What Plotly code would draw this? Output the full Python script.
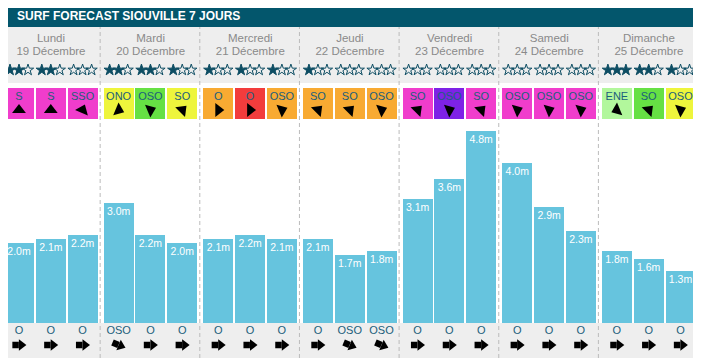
import math
import plotly.graph_objects as go

# ---------------- data ----------------
days = ["Lundi", "Mardi", "Mercredi", "Jeudi", "Vendredi", "Samedi", "Dimanche"]
dates = ["19 Décembre", "20 Décembre", "21 Décembre", "22 Décembre",
         "23 Décembre", "24 Décembre", "25 Décembre"]
stars = [[2, 2, 0], [2, 2, 1], [1, 1, 1], [1, 0, 0], [0, 0, 0], [0, 0, 0], [3, 2, 1]]
wind_dir = [["S", "S", "SSO"], ["ONO", "OSO", "SO"], ["O", "O", "OSO"],
            ["SO", "SO", "OSO"], ["SO", "OSO", "SO"], ["OSO", "OSO", "OSO"],
            ["ENE", "SO", "OSO"]]
wind_level = [["magenta", "magenta", "magenta"], ["yellow", "green", "yellow"],
              ["orange", "red", "orange"], ["orange", "orange", "orange"],
              ["magenta", "purple", "magenta"], ["magenta", "magenta", "magenta"],
              ["lightgreen", "green", "yellow"]]
wave_height = [[2.0, 2.1, 2.2], [3.0, 2.2, 2.0], [2.1, 2.2, 2.1], [2.1, 1.7, 1.8],
               [3.1, 3.6, 4.8], [4.0, 2.9, 2.3], [1.8, 1.6, 1.3]]
swell_dir = [["O", "O", "O"], ["OSO", "O", "O"], ["O", "O", "O"], ["O", "OSO", "OSO"],
             ["O", "O", "O"], ["O", "O", "O"], ["O", "O", "O"]]
title = "SURF FORECAST SIOUVILLE 7 JOURS"

# ---------------- styles ----------------
LEVEL_COLORS = {"magenta": "#f03dcc", "yellow": "#eef53c", "green": "#66e044",
                "orange": "#f8aa32", "red": "#f23c3c", "purple": "#7e22e6",
                "lightgreen": "#b2f79c"}
COMPASS = {"N": 0, "NNE": 22.5, "NE": 45, "ENE": 67.5, "E": 90, "ESE": 112.5,
           "SE": 135, "SSE": 157.5, "S": 180, "SSO": 202.5, "SO": 225, "OSO": 247.5,
           "O": 270, "ONO": 292.5, "NO": 315, "NNO": 337.5}
FONT = "Liberation Sans, Arial, sans-serif"
HEADER = "#03566c"
BAR = "#66c4de"
GRAY = "#eeeeee"
TXT_DIR = "#1b5e7b"
STAR = "#0d4d63"

# page is rendered with an 8px body margin: figure origin sits at page (8, 8)
OFF = 8
W, H = 701 - OFF, 363 - OFF
PLOT_RIGHT, PLOT_BOTTOM = 697, 358          # page pixels
BASE_PX = 322.7                             # page row of 0 m
PX_PER_M = 40.0


def py2y(py):
    return (BASE_PX - py) / PX_PER_M


def px2x(px):
    return px - OFF


COL = 99.65
PITCH = 31.8


def slot_x(d, s):
    return px2x(d * COL + 19 + PITCH * s)


def col_x(d):
    return px2x(d * COL + 51)


xs, vals, wcols, wtxt, wang, sdir, sang = [], [], [], [], [], [], []
for d in range(7):
    for s in range(3):
        xs.append(slot_x(d, s))
        vals.append(wave_height[d][s])
        wcols.append(LEVEL_COLORS[wind_level[d][s]])
        wtxt.append(wind_dir[d][s])
        wang.append((COMPASS[wind_dir[d][s]] + 180) % 360)
        sdir.append(swell_dir[d][s])
        sang.append((360 - COMPASS[swell_dir[d][s]]) % 360)

fig = go.Figure()

# wave bars
fig.add_trace(go.Bar(x=xs, y=vals, width=30, marker=dict(color=BAR, line=dict(width=0)),
                     hoverinfo="skip"))
fig.add_trace(go.Scatter(x=xs, y=[v - 9.5 / PX_PER_M for v in vals], mode="text",
                         text=[f"{v:.1f}m" for v in vals],
                         textfont=dict(family=FONT, size=10.5, color="white"),
                         hoverinfo="skip", cliponaxis=False))

# wind boxes
box_base = py2y(119)
box_h = py2y(88) - py2y(119)
fig.add_trace(go.Bar(x=xs, y=[box_h] * len(xs), base=box_base, width=30,
                     marker=dict(color=wcols, line=dict(width=0)), hoverinfo="skip"))
fig.add_trace(go.Scatter(x=xs, y=[py2y(97)] * len(xs), mode="text", text=wtxt,
                         textfont=dict(family=FONT, size=11, color=TXT_DIR),
                         hoverinfo="skip", cliponaxis=False))
fig.add_trace(go.Scatter(x=xs, y=[py2y(110)] * len(xs), mode="markers",
                         marker=dict(symbol="triangle-up", size=12, color="black",
                                     angle=wang, line=dict(width=0)),
                         hoverinfo="skip", cliponaxis=False))

# stars
sx, sy, ssym = [], [], []
for d in range(7):
    for s in range(3):
        for k in range(3):
            sx.append(slot_x(d, s) + (k - 1) * 9)
            sy.append(py2y(70))
            ssym.append("star" if k < stars[d][s] else "star-open")
fig.add_trace(go.Scatter(x=sx, y=sy, mode="markers",
                         marker=dict(symbol=ssym, size=8.5, color=STAR,
                                     line=dict(width=1, color=STAR)),
                         hoverinfo="skip", cliponaxis=False))

# day headers
fig.add_trace(go.Scatter(x=[col_x(d) for d in range(7)], y=[py2y(39)] * 7, mode="text",
                         text=days, textfont=dict(family=FONT, size=11.5, color="#8a8a8a"),
                         hoverinfo="skip", cliponaxis=False))
fig.add_trace(go.Scatter(x=[col_x(d) for d in range(7)], y=[py2y(52)] * 7, mode="text",
                         text=dates, textfont=dict(family=FONT, size=11.5, color="#8a8a8a"),
                         hoverinfo="skip", cliponaxis=False))

# swell directions
fig.add_trace(go.Scatter(x=xs, y=[py2y(331)] * len(xs), mode="text", text=sdir,
                         textfont=dict(family=FONT, size=11, color=TXT_DIR),
                         hoverinfo="skip", cliponaxis=False))
# swell arrows: square tail + triangle head along the direction
tx, ty, hx, hy = [], [], [], []
for x, a in zip(xs, sang):
    ux, uy = math.sin(math.radians(a)), -math.cos(math.radians(a))
    tx.append(x - 3.4 * ux)
    ty.append(py2y(345 - 3.4 * uy))
    hx.append(x + 2.4 * ux)
    hy.append(py2y(345 + 2.4 * uy))
fig.add_trace(go.Scatter(x=tx, y=ty, mode="markers",
                         marker=dict(symbol="square", size=6.5, color="black",
                                     angle=sang, line=dict(width=0)),
                         hoverinfo="skip", cliponaxis=False))
fig.add_trace(go.Scatter(x=hx, y=hy, mode="markers",
                         marker=dict(symbol="triangle-up", size=10, color="black",
                                     angle=sang, line=dict(width=0)),
                         hoverinfo="skip", cliponaxis=False))

shapes = [
    dict(type="rect", xref="x", yref="y", x0=px2x(4), x1=px2x(697), y0=py2y(27),
         y1=py2y(4), fillcolor=HEADER, line=dict(width=0), layer="below"),
    dict(type="rect", xref="x", yref="y", x0=px2x(4), x1=px2x(697), y0=py2y(83),
         y1=py2y(27), fillcolor=GRAY, line=dict(width=0), layer="below"),
    dict(type="rect", xref="x", yref="y", x0=px2x(4), x1=px2x(697), y0=py2y(358),
         y1=py2y(323), fillcolor=GRAY, line=dict(width=0), layer="below"),
]
for d in range(1, 7):
    xsep = px2x(d * COL + 0.5)
    shapes.append(dict(type="line", xref="x", yref="y", x0=xsep, x1=xsep,
                       y0=py2y(358), y1=py2y(27),
                       line=dict(color="#bbbbbb", width=1, dash="4px,3px"), layer="above"))

fig.update_layout(
    width=W, height=H,
    margin=dict(l=0, r=W - px2x(PLOT_RIGHT), t=0, b=H - px2x(PLOT_BOTTOM)),
    paper_bgcolor="white", plot_bgcolor="white",
    showlegend=False, barmode="overlay", bargap=0,
    shapes=shapes,
    annotations=[dict(text=f"<b>{title}</b>", x=px2x(15), y=py2y(16), xref="x", yref="y",
                      xanchor="left", yanchor="middle", showarrow=False,
                      font=dict(family=FONT, size=12, color="white"))],
    xaxis=dict(range=[0, px2x(PLOT_RIGHT)], visible=False, fixedrange=True),
    yaxis=dict(range=[py2y(PLOT_BOTTOM), py2y(OFF)], visible=False, fixedrange=True),
)

fig.write_html("out.html")
